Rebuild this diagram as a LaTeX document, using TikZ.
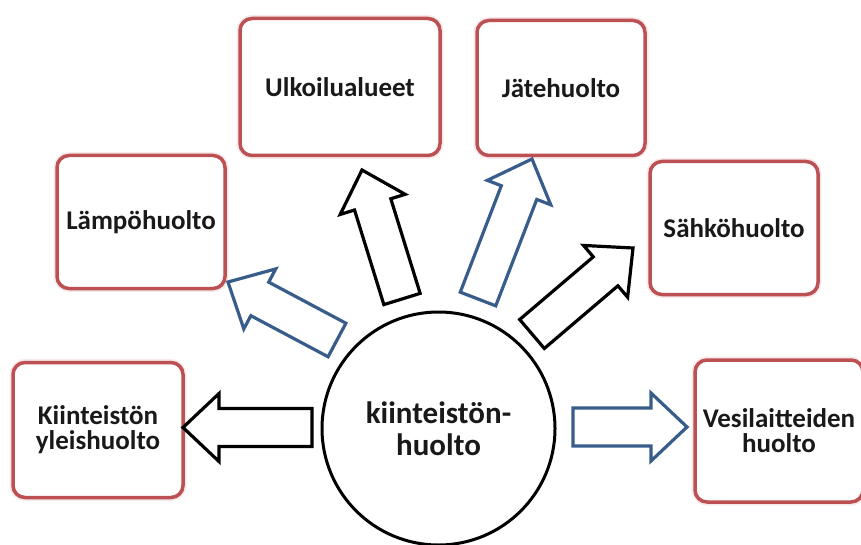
\documentclass[tikz,border=0pt]{standalone}
\usepackage{fontspec}
\setmainfont{Carlito}
\usepackage{tikz}
\usetikzlibrary{calc}
\usepackage{xcolor}
\definecolor{boxred}{RGB}{188,80,82}
\definecolor{spokeblue}{RGB}{56,93,138}
\tikzset{
    task/.style={
        draw=boxred,
        line width=3.5pt,
        rounded corners=12pt,
        preaction={draw=boxred!12,line width=7pt},
        fill=white,
        align=center,
        text=black!90,
        inner sep=0pt,
        font=\fontsize{27}{25}\selectfont\bfseries
    },
    hub/.style={
        draw,
        circle,
        line width=3pt,
        fill=white,
        minimum size=233pt,
        inner sep=0pt,
        align=center,
        text=black!90,
        font=\fontsize{31}{32}\selectfont\bfseries
    },
    spoke/.style={
        line width=3.2pt,
        line join=miter,
        fill=white
    }
}
\newcommand{\blockarrow}[3] {
    \coordinate (head) at ($(#3)!36pt!(#2)$);
    \draw[spoke,draw=#1]
        ($(#2)!19pt!90:(#3)$) -- ($(head)!19pt!90:(#3)$) -- ($(head)!34pt!90:(#3)$)
        -- (#3)
        -- ($(head)!34pt!-90:(#3)$) -- ($(head)!19pt!-90:(#3)$) -- ($(#2)!19pt!-90:(#3)$)
        -- cycle;
}

\begin{document}
\begin{tikzpicture}[x=1pt,y=-1pt]
    \useasboundingbox (0,0) rectangle (861,545);
    % centre
    \node[hub] (hub) at (438.5,428.5) {kiinteistön-\\huolto};
    % tasks
    \node[task,minimum width=170pt,minimum height=135pt] (yleis) at (98,430) {Kiinteistön\\yleishuolto};
    \node[task,minimum width=168pt,minimum height=133pt] (lampo) at (141,222) {Lämpöhuolto};
    \node[task,minimum width=200pt,minimum height=137pt] (ulko) at (340,87) {Ulkoilualueet};
    \node[task,minimum width=168pt,minimum height=135pt] (jate) at (561,88) {Jätehuolto};
    \node[task,minimum width=168pt,minimum height=133pt] (sahko) at (734,228) {Sähköhuolto};
    \node[task,minimum width=168pt,minimum height=142pt] (vesi) at (779,431) {Vesilaitteiden\\huolto};
    % arrow ends
    \coordinate (yleisT) at (312,427.5);  \coordinate (yleisP) at (183,427.5);
    \coordinate (vesiT) at (573,427);     \coordinate (vesiP) at (687,427);
    \coordinate (lampoT) at (337,340);    \coordinate (lampoP) at (228,282);
    \coordinate (ulkoT) at (402,299);     \coordinate (ulkoP) at (362,170);
    \coordinate (jateT) at (478,299);     \coordinate (jateP) at (532,159);
    \coordinate (sahkoT) at (532,334);    \coordinate (sahkoP) at (633,248);
    % arrows
    \blockarrow{black}{yleisT}{yleisP}
    \blockarrow{spokeblue}{vesiT}{vesiP}
    \blockarrow{spokeblue}{lampoT}{lampoP}
    \blockarrow{black}{ulkoT}{ulkoP}
    \blockarrow{spokeblue}{jateT}{jateP}
    \blockarrow{black}{sahkoT}{sahkoP}
\end{tikzpicture}
\end{document}
